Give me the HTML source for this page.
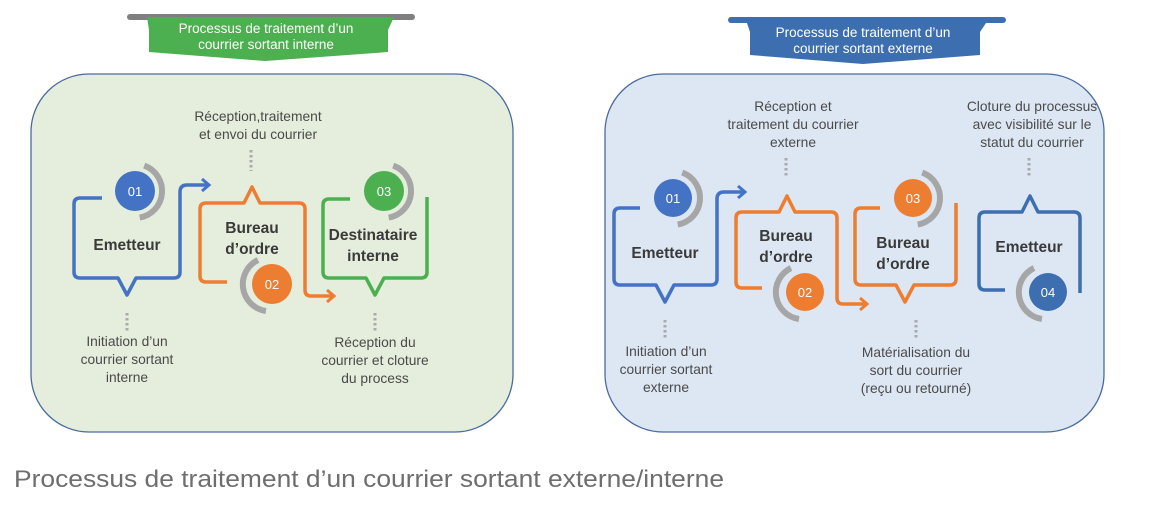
<!DOCTYPE html>
<html><head><meta charset="utf-8"><style>
html,body{margin:0;padding:0;background:#fff;width:1154px;height:516px;overflow:hidden}
svg text{font-family:"Liberation Sans",sans-serif}
.t{font-size:13.8px;fill:#4a4a4a;text-anchor:middle}
.n{font-size:15.5px;font-weight:bold;fill:#3a3a3a;text-anchor:middle}
.c{font-size:13px;fill:#fff;text-anchor:middle}
.b{font-size:13.5px;fill:#fff;text-anchor:middle}
.arc{fill:none;stroke:#a6a6a6;stroke-width:6}
.d{stroke:#aaa;stroke-width:3;stroke-dasharray:2.5 2.5;fill:none}
</style></head><body>
<svg width="1154" height="516" viewBox="0 0 1154 516">
<rect x="31" y="74" width="482" height="358" rx="58" fill="#e5eedc" stroke="#4a6ba0" stroke-width="1.3"/>
<rect x="605" y="74" width="499" height="358" rx="58" fill="#dde7f3" stroke="#4a6ba0" stroke-width="1.3"/>

<rect x="127" y="14" width="288" height="6" rx="3" fill="#7f7f7f"/>
<path d="M147 17 H394 L388 30 V52 L265 61 L149 52 V30 Z" fill="#4caf50"/>
<text class="b" x="266" y="33">Processus de traitement d’un</text>
<text class="b" x="266" y="49">courrier sortant interne</text>

<rect x="728" y="17" width="278" height="6" rx="3" fill="#3d6fb0"/>
<path d="M746 20 H988 L980 32 V55 L863 64 L750 55 V32 Z" fill="#3d6fb0"/>
<text class="b" x="863" y="37">Processus de traitement d’un</text>
<text class="b" x="863" y="53">courrier sortant externe</text>

<text class="t" x="258" y="121">Réception,traitement</text>
<text class="t" x="258" y="139">et envoi du courrier</text>
<path class="d" d="M251 150 V171"/>
<path class="d" d="M127 313 V332"/>
<text class="t" x="127" y="346">Initiation d’un</text>
<text class="t" x="127" y="364">courrier sortant</text>
<text class="t" x="127" y="382">interne</text>
<path class="d" d="M375 313 V333"/>
<text class="t" x="375" y="347">Réception du</text>
<text class="t" x="375" y="365">courrier et cloture</text>
<text class="t" x="375" y="383">du process</text>

<path d="M102 198 H80 Q74 198 74 204 V272 Q74 278 80 278 H118 L127 295 L136 278 H174 Q180 278 180 272 V192 Q180 185 187 185 H208" fill="none" stroke="#4472c4" stroke-width="3.5" stroke-linejoin="round"/>
<path d="M202 179 L209 185 L202 191" fill="none" stroke="#4472c4" stroke-width="3"/>
<path class="arc" d="M144.2 165.6 A27 27 0 0 1 139.7 217.6"/>
<circle cx="135" cy="191" r="20" fill="#4472c4"/>
<text class="c" x="135" y="196">01</text>
<text class="n" x="127" y="250">Emetteur</text>

<path d="M227 282 H206 Q200 282 200 276 V209 Q200 203 206 203 H244 L252 187 L260 203 H299 Q305 203 305 209 V290 Q305 296 311 296 H333" fill="none" stroke="#ed7d31" stroke-width="3.5" stroke-linejoin="round"/>
<path d="M327 290 L334 296 L327 302" fill="none" stroke="#ed7d31" stroke-width="3"/>
<path class="arc" d="M258 260 A27 27 0 0 0 266 311"/>
<circle cx="272" cy="284" r="20" fill="#ed7d31"/>
<text class="c" x="272" y="289">02</text>
<text class="n" x="252" y="233">Bureau</text>
<text class="n" x="252" y="254">d’ordre</text>

<path d="M350 199 H329 Q323 199 323 205 V272 Q323 278 329 278 H366 L375 295 L384 278 H421 Q427 278 427 272 V197" fill="none" stroke="#4caf50" stroke-width="3.5" stroke-linejoin="round"/>
<path class="arc" d="M393.2 165.6 A27 27 0 0 1 388.7 217.6"/>
<circle cx="384" cy="191" r="20" fill="#4caf50"/>
<text class="c" x="384" y="196">03</text>
<text class="n" x="373" y="240">Destinataire</text>
<text class="n" x="373" y="261">interne</text>

<text class="t" x="793" y="111">Réception et</text>
<text class="t" x="793" y="129">traitement du courrier</text>
<text class="t" x="793" y="147">externe</text>
<path class="d" d="M786 158 V178"/>
<text class="t" x="1032" y="111">Cloture du processus</text>
<text class="t" x="1032" y="129">avec visibilité sur le</text>
<text class="t" x="1032" y="147">statut du courrier</text>
<path class="d" d="M1029 158 V178"/>
<path class="d" d="M665 320 V340"/>
<text class="t" x="666" y="356">Initiation d’un</text>
<text class="t" x="666" y="374">courrier sortant</text>
<text class="t" x="666" y="392">externe</text>
<path class="d" d="M916 320 V340"/>
<text class="t" x="916" y="357">Matérialisation du</text>
<text class="t" x="916" y="375">sort du courrier</text>
<text class="t" x="916" y="393">(reçu ou retourné)</text>

<path d="M640 208 H620 Q614 208 614 214 V279 Q614 285 620 285 H656 L665 302 L674 285 H711 Q717 285 717 279 V199 Q717 192 724 192 H744" fill="none" stroke="#4472c4" stroke-width="3.5" stroke-linejoin="round"/>
<path d="M738 186 L745 192 L738 198" fill="none" stroke="#4472c4" stroke-width="3"/>
<path class="arc" d="M682.2 172.6 A27 27 0 0 1 677.7 224.6"/>
<circle cx="673" cy="198" r="19" fill="#4472c4"/>
<text class="c" x="673" y="203">01</text>
<text class="n" x="665" y="258">Emetteur</text>

<path d="M762 288 H742 Q736 288 736 282 V218 Q736 212 742 212 H779 L787 196 L795 212 H831 Q837 212 837 218 V298 Q837 304 843 304 H866" fill="none" stroke="#ed7d31" stroke-width="3.5" stroke-linejoin="round"/>
<path d="M860 298 L867 304 L860 310" fill="none" stroke="#ed7d31" stroke-width="3"/>
<path class="arc" d="M791 268 A27 27 0 0 0 799 319"/>
<circle cx="805" cy="292" r="19" fill="#ed7d31"/>
<text class="c" x="805" y="297">02</text>
<text class="n" x="786" y="241">Bureau</text>
<text class="n" x="786" y="262">d’ordre</text>

<path d="M880 208 H861 Q855 208 855 214 V279 Q855 285 861 285 H896 L905 302 L914 285 H950 Q956 285 956 279 V203" fill="none" stroke="#ed7d31" stroke-width="3.5" stroke-linejoin="round"/>
<path class="arc" d="M922.2 172.6 A27 27 0 0 1 917.7 224.6"/>
<circle cx="913" cy="198" r="19" fill="#ed7d31"/>
<text class="c" x="913" y="203">03</text>
<text class="n" x="903" y="248">Bureau</text>
<text class="n" x="903" y="269">d’ordre</text>

<path d="M1005 290 H985 Q979 290 979 284 V218 Q979 212 985 212 H1022 L1030 196 L1038 212 H1074 Q1080 212 1080 218 V293" fill="none" stroke="#3d6fb0" stroke-width="3.5" stroke-linejoin="round"/>
<path class="arc" d="M1034 268 A27 27 0 0 0 1042 319"/>
<circle cx="1048" cy="292" r="19" fill="#3d6fb0"/>
<text class="c" x="1048" y="297">04</text>
<text class="n" x="1029" y="252">Emetteur</text>

<text x="14" y="487" textLength="710" lengthAdjust="spacingAndGlyphs" style="font-size:24px;fill:#6e6e6e">Processus de traitement d’un courrier sortant externe/interne</text>
</svg>
</body></html>
